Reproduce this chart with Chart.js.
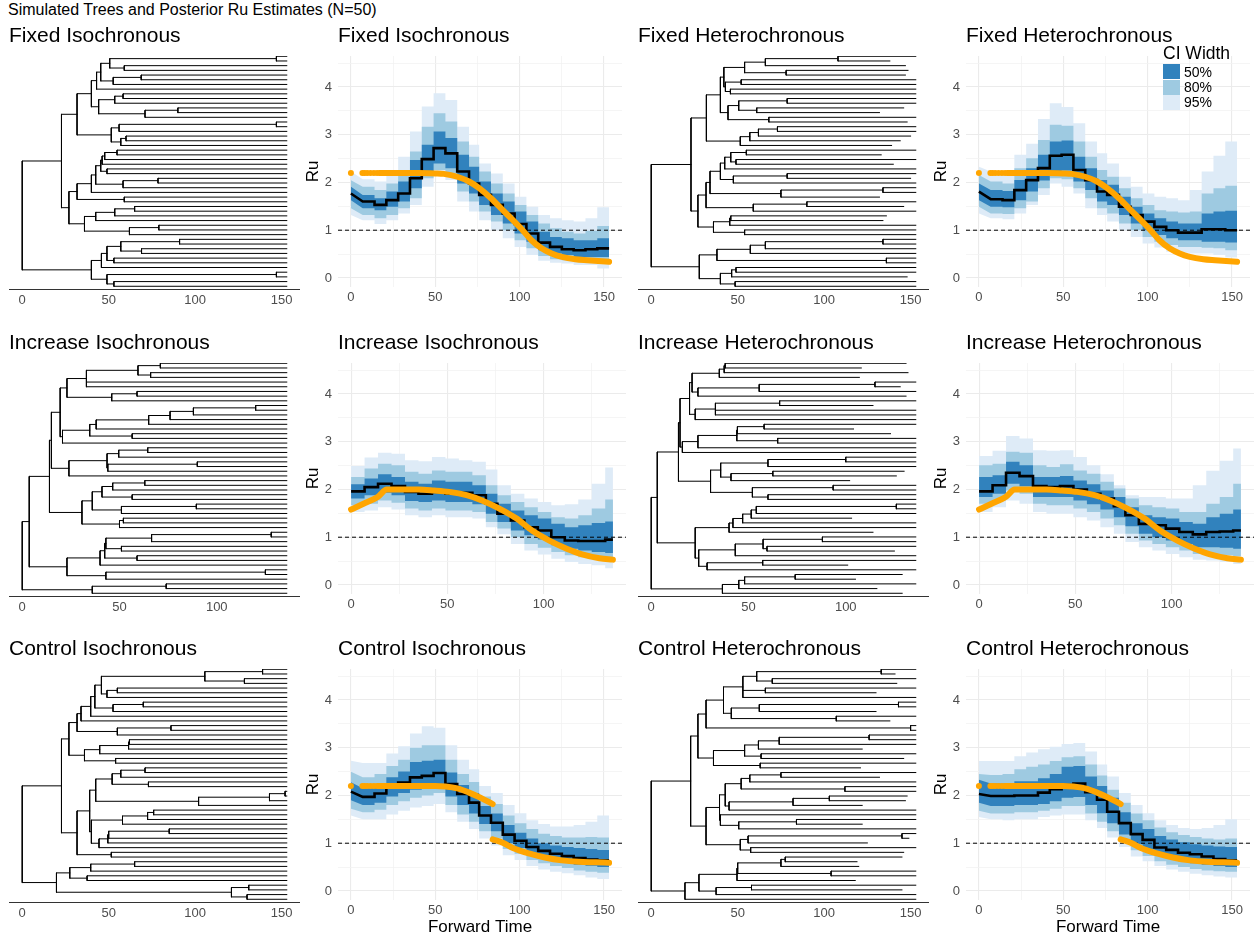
<!DOCTYPE html>
<html>
<head>
<meta charset="utf-8">
<title>Simulated Trees and Posterior Ru Estimates</title>
<script src="https://cdn.jsdelivr.net/npm/chart.js@4.4.1/dist/chart.umd.min.js"></script>
<style>
  html, body { margin: 0; padding: 0; background: #ffffff; }
  body { position: relative; width: 1254px; height: 941px; overflow: hidden;
         font-family: "Liberation Sans", Arial, Helvetica, sans-serif; }
  #mainTitle { position: absolute; left: 8px; top: 0px; font-size: 16px; line-height: 20px; color: #000; white-space: nowrap; }
  .legend-title { position: absolute; font-size: 17.5px; line-height: 20px; color: #000; white-space: nowrap; }
  .legend-key { position: absolute; width: 17px; height: 15px; }
  .legend-label { position: absolute; font-size: 14px; line-height: 15px; color: #000; white-space: nowrap; }
  canvas { position: absolute; }
</style>
</head>
<body>
<div id="mainTitle">Simulated Trees and Posterior Ru Estimates (N=50)</div>

<script>
// ---------------------------------------------------------------------------
// Time grids of the piecewise-constant Ru estimates
// ---------------------------------------------------------------------------
const timeGrid153 = [0, 7, 14, 21, 28, 35, 42, 49, 56, 63, 70, 76, 83, 90, 97, 104, 111, 118, 125, 132, 139, 146, 153];
const timeGrid136 = [0, 7, 14, 21, 28, 35, 42, 49, 56, 63, 70, 76, 83, 90, 97, 104, 111, 118, 125, 132, 136];

// ---------------------------------------------------------------------------
// Posterior Ru: median and credible interval bounds per interval
// ---------------------------------------------------------------------------
// Fixed, isochronous sampling
const fixIsoMed  = [1.77, 1.60, 1.53, 1.63, 1.77, 2.09, 2.49, 2.72, 2.61, 2.23, 1.98, 1.74, 1.53, 1.35, 1.13, 0.93, 0.74, 0.65, 0.60, 0.58, 0.60, 0.62];
const fixIsoHi50 = [1.91, 1.74, 1.67, 1.81, 2.02, 2.47, 2.79, 3.07, 2.93, 2.58, 2.33, 2.02, 1.77, 1.60, 1.39, 1.18, 0.97, 0.86, 0.83, 0.79, 0.79, 0.83];
const fixIsoLo50 = [1.63, 1.46, 1.42, 1.49, 1.60, 1.88, 2.23, 2.40, 2.30, 1.98, 1.77, 1.53, 1.32, 1.14, 0.93, 0.76, 0.58, 0.51, 0.48, 0.44, 0.44, 0.44];
const fixIsoHi80 = [2.05, 1.91, 1.84, 1.98, 2.23, 2.65, 3.17, 3.45, 3.28, 2.86, 2.54, 2.23, 1.98, 1.77, 1.53, 1.32, 1.14, 1.04, 0.97, 0.93, 0.99, 1.09];
const fixIsoLo80 = [1.46, 1.32, 1.25, 1.32, 1.46, 1.67, 2.09, 2.26, 2.16, 1.81, 1.60, 1.39, 1.18, 1.00, 0.79, 0.62, 0.46, 0.39, 0.37, 0.34, 0.34, 0.32];
const fixIsoHi95 = [2.23, 2.07, 2.02, 2.16, 2.54, 3.07, 3.59, 3.87, 3.73, 3.17, 2.79, 2.40, 2.19, 1.98, 1.70, 1.49, 1.32, 1.25, 1.21, 1.18, 1.25, 1.48];
const fixIsoLo95 = [1.32, 1.21, 1.13, 1.21, 1.35, 1.53, 1.91, 2.16, 2.05, 1.60, 1.39, 1.21, 1.00, 0.83, 0.65, 0.48, 0.36, 0.32, 0.30, 0.27, 0.27, 0.20];

// Fixed, heterochronous sampling
const fixHetMed  = [1.81, 1.65, 1.63, 1.84, 2.05, 2.30, 2.56, 2.58, 2.26, 2.05, 1.81, 1.74, 1.49, 1.32, 1.18, 1.07, 1.00, 0.95, 0.95, 1.02, 1.02, 1.00];
const fixHetHi50 = [1.98, 1.84, 1.82, 2.05, 2.30, 2.58, 2.86, 2.88, 2.54, 2.30, 2.05, 1.95, 1.70, 1.49, 1.35, 1.25, 1.18, 1.14, 1.14, 1.35, 1.39, 1.41];
const fixHetLo50 = [1.63, 1.49, 1.48, 1.63, 1.81, 2.04, 2.23, 2.25, 2.02, 1.84, 1.60, 1.53, 1.32, 1.14, 1.00, 0.90, 0.83, 0.79, 0.79, 0.76, 0.76, 0.74];
const fixHetHi80 = [2.16, 2.02, 1.98, 2.30, 2.51, 2.89, 3.21, 3.19, 2.86, 2.54, 2.26, 2.12, 1.88, 1.67, 1.53, 1.42, 1.39, 1.37, 1.39, 1.77, 1.88, 1.93];
const fixHetLo80 = [1.49, 1.35, 1.34, 1.46, 1.60, 1.88, 2.09, 2.07, 1.88, 1.67, 1.46, 1.35, 1.14, 1.00, 0.86, 0.76, 0.69, 0.65, 0.65, 0.63, 0.62, 0.58];
const fixHetHi95 = [2.33, 2.23, 2.19, 2.58, 2.81, 3.33, 3.66, 3.58, 3.24, 2.86, 2.61, 2.40, 2.12, 1.91, 1.77, 1.70, 1.67, 1.63, 1.84, 2.23, 2.56, 2.86];
const fixHetLo95 = [1.35, 1.25, 1.23, 1.35, 1.53, 1.74, 1.98, 1.91, 1.77, 1.46, 1.32, 1.18, 1.00, 0.86, 0.72, 0.64, 0.55, 0.53, 0.51, 0.51, 0.48, 0.43];

// Increase, isochronous sampling
const incIsoMed  = [1.96, 2.05, 2.12, 2.07, 1.95, 1.91, 1.95, 1.91, 1.93, 1.88, 1.70, 1.49, 1.35, 1.21, 1.14, 1.00, 0.93, 0.92, 0.92, 0.95];
const incIsoHi50 = [2.11, 2.23, 2.32, 2.26, 2.16, 2.12, 2.19, 2.16, 2.16, 2.09, 1.91, 1.70, 1.56, 1.46, 1.39, 1.28, 1.21, 1.25, 1.30, 1.33];
const incIsoLo50 = [1.81, 1.88, 1.93, 1.88, 1.76, 1.74, 1.77, 1.74, 1.74, 1.69, 1.49, 1.32, 1.14, 1.04, 0.95, 0.83, 0.76, 0.72, 0.69, 0.67];
const incIsoHi80 = [2.26, 2.44, 2.54, 2.51, 2.37, 2.33, 2.40, 2.37, 2.37, 2.30, 2.09, 1.88, 1.74, 1.63, 1.53, 1.42, 1.39, 1.46, 1.60, 1.79];
const incIsoLo80 = [1.67, 1.70, 1.77, 1.72, 1.60, 1.56, 1.60, 1.56, 1.56, 1.53, 1.32, 1.18, 1.00, 0.86, 0.78, 0.69, 0.62, 0.58, 0.55, 0.51];
const incIsoHi95 = [2.49, 2.67, 2.77, 2.75, 2.61, 2.59, 2.68, 2.65, 2.61, 2.58, 2.42, 2.09, 1.91, 1.81, 1.74, 1.67, 1.69, 1.79, 2.12, 2.46];
const incIsoLo95 = [1.53, 1.56, 1.63, 1.58, 1.46, 1.42, 1.46, 1.42, 1.42, 1.39, 1.21, 1.06, 0.86, 0.72, 0.64, 0.55, 0.48, 0.44, 0.41, 0.35];

// Increase, heterochronous sampling
const incHetMed  = [1.96, 2.09, 2.35, 2.28, 2.07, 2.05, 2.07, 2.00, 1.91, 1.81, 1.65, 1.46, 1.28, 1.25, 1.18, 1.11, 1.06, 1.11, 1.12, 1.14];
const incHetHi50 = [2.26, 2.30, 2.58, 2.51, 2.26, 2.26, 2.28, 2.19, 2.11, 1.98, 1.84, 1.63, 1.46, 1.42, 1.39, 1.32, 1.28, 1.42, 1.49, 1.58];
const incHetLo50 = [1.84, 1.91, 2.12, 2.07, 1.84, 1.84, 1.84, 1.77, 1.69, 1.58, 1.42, 1.23, 1.07, 1.00, 0.93, 0.86, 0.79, 0.79, 0.78, 0.76];
const incHetHi80 = [2.51, 2.54, 2.79, 2.77, 2.51, 2.47, 2.53, 2.40, 2.33, 2.16, 2.02, 1.81, 1.67, 1.63, 1.60, 1.53, 1.53, 1.70, 1.84, 2.12];
const incHetLo80 = [1.70, 1.77, 1.98, 1.91, 1.70, 1.67, 1.67, 1.60, 1.53, 1.39, 1.25, 1.07, 0.93, 0.86, 0.79, 0.72, 0.65, 0.64, 0.62, 0.60];
const incHetHi95 = [2.70, 2.81, 3.12, 3.07, 2.82, 2.81, 2.82, 2.68, 2.51, 2.32, 2.09, 1.88, 1.84, 1.84, 1.81, 1.81, 2.09, 2.39, 2.60, 2.86];
const incHetLo95 = [1.53, 1.63, 1.77, 1.70, 1.53, 1.49, 1.49, 1.42, 1.35, 1.21, 1.07, 0.90, 0.79, 0.72, 0.65, 0.58, 0.53, 0.51, 0.48, 0.44];

// Control, isochronous sampling
const ctlIsoMed  = [2.08, 1.97, 2.04, 2.18, 2.27, 2.38, 2.41, 2.47, 2.24, 2.03, 1.85, 1.58, 1.43, 1.18, 1.05, 0.92, 0.84, 0.78, 0.73, 0.69, 0.66, 0.64];
const ctlIsoHi50 = [2.28, 2.15, 2.20, 2.38, 2.50, 2.70, 2.73, 2.75, 2.48, 2.22, 2.05, 1.78, 1.62, 1.38, 1.22, 1.10, 1.00, 0.95, 0.92, 0.90, 0.88, 0.86];
const ctlIsoLo50 = [1.90, 1.80, 1.85, 1.98, 2.05, 2.12, 2.15, 2.20, 1.98, 1.80, 1.62, 1.40, 1.25, 1.00, 0.90, 0.78, 0.70, 0.65, 0.60, 0.55, 0.53, 0.50];
const ctlIsoHi80 = [2.50, 2.38, 2.45, 2.62, 2.75, 3.00, 3.05, 3.05, 2.75, 2.45, 2.28, 1.98, 1.82, 1.58, 1.42, 1.30, 1.20, 1.15, 1.12, 1.12, 1.13, 1.12];
const ctlIsoLo80 = [1.72, 1.65, 1.70, 1.80, 1.88, 1.95, 2.00, 2.05, 1.80, 1.60, 1.45, 1.25, 1.10, 0.88, 0.78, 0.65, 0.58, 0.52, 0.48, 0.43, 0.40, 0.38];
const ctlIsoHi95 = [2.73, 2.68, 2.68, 2.88, 3.03, 3.30, 3.45, 3.42, 3.05, 2.75, 2.55, 2.20, 2.05, 1.80, 1.63, 1.48, 1.40, 1.35, 1.35, 1.38, 1.45, 1.58];
const ctlIsoLo95 = [1.58, 1.50, 1.50, 1.60, 1.68, 1.75, 1.78, 1.82, 1.65, 1.45, 1.30, 1.10, 0.95, 0.75, 0.65, 0.52, 0.45, 0.40, 0.37, 0.33, 0.28, 0.25];

// Control, heterochronous sampling
const ctlHetMed  = [2.03, 1.99, 1.99, 2.00, 2.00, 2.06, 2.13, 2.22, 2.25, 2.07, 1.91, 1.66, 1.42, 1.19, 1.07, 0.91, 0.86, 0.80, 0.77, 0.72, 0.67, 0.64];
const ctlHetHi50 = [2.33, 2.25, 2.25, 2.30, 2.30, 2.36, 2.45, 2.60, 2.62, 2.40, 2.20, 1.95, 1.65, 1.42, 1.30, 1.15, 1.08, 1.02, 0.98, 0.95, 0.93, 0.92];
const ctlHetLo50 = [1.85, 1.78, 1.78, 1.80, 1.80, 1.82, 1.88, 1.95, 1.97, 1.80, 1.63, 1.42, 1.18, 0.98, 0.87, 0.75, 0.68, 0.62, 0.58, 0.55, 0.52, 0.50];
const ctlHetHi80 = [2.45, 2.43, 2.45, 2.55, 2.60, 2.65, 2.72, 2.80, 2.82, 2.65, 2.42, 2.12, 1.85, 1.62, 1.48, 1.33, 1.23, 1.17, 1.13, 1.10, 1.08, 1.10];
const ctlHetLo80 = [1.68, 1.62, 1.62, 1.65, 1.65, 1.68, 1.72, 1.78, 1.78, 1.62, 1.45, 1.25, 1.05, 0.85, 0.73, 0.62, 0.55, 0.50, 0.46, 0.43, 0.41, 0.40];
const ctlHetHi95 = [2.72, 2.72, 2.72, 2.82, 2.90, 2.97, 3.02, 3.08, 3.10, 2.92, 2.65, 2.40, 2.05, 1.80, 1.63, 1.48, 1.38, 1.32, 1.30, 1.32, 1.38, 1.50];
const ctlHetLo95 = [1.55, 1.50, 1.48, 1.50, 1.50, 1.55, 1.58, 1.60, 1.60, 1.48, 1.32, 1.12, 0.92, 0.72, 0.62, 0.52, 0.45, 0.40, 0.36, 0.33, 0.30, 0.28];

// ---------------------------------------------------------------------------
// True Ru trajectories of the three scenarios
// ---------------------------------------------------------------------------
const trueFixedDotX   = [0, 6.8, 8.1, 9.7, 11.6, 13.6, 15.5];
const trueFixedDotY   = [2.2, 2.2, 2.2, 2.2, 2.2, 2.2, 2.2];
const trueFixedX      = [17, 30, 40, 50, 55, 63, 70, 76, 83, 90, 96, 102, 107, 113, 119, 125, 133, 140, 153];
const trueFixedY      = [2.2, 2.2, 2.2, 2.19, 2.18, 2.12, 2.02, 1.88, 1.67, 1.42, 1.21, 0.99, 0.79, 0.62, 0.51, 0.44, 0.39, 0.37, 0.34];

const trueIncreaseX   = [0, 7, 14, 18.5, 25, 35, 43, 51, 60, 68, 77, 86, 94, 103, 112, 120, 129, 136];
const trueIncreaseY   = [1.58, 1.71, 1.85, 2.0, 2.0, 2.0, 1.98, 1.95, 1.88, 1.77, 1.60, 1.39, 1.14, 0.93, 0.76, 0.64, 0.56, 0.53];

const trueControlDotX = [0, 6.8, 8.1, 9.7, 11.6, 13.6];
const trueControlDotY = [2.2, 2.2, 2.2, 2.2, 2.2, 2.2];
const trueControlAX   = [15.5, 30, 40, 50, 56, 63, 70, 77, 84];
const trueControlAY   = [2.2, 2.2, 2.2, 2.2, 2.19, 2.15, 2.06, 1.95, 1.82];
const trueControlBX   = [84, 90, 96, 106, 115, 125, 135, 145, 153];
const trueControlBY   = [1.08, 1.01, 0.90, 0.78, 0.70, 0.64, 0.61, 0.60, 0.59];

const refLevel = 1;   // Ru = 1 threshold

// ---------------------------------------------------------------------------
// Simulated trees: "[t child child ...]" = node at time t, number = tip time,
// "." = tip sampled at the end of the simulation
// ---------------------------------------------------------------------------
const treeFixedIso = "[0 [22.7 [31.7 [40 [43 [45.4 [50.6 [147 . .] [59 . .]] [52.6 [68.8 . .] .]] .] [44.2 [53.5 [58.3 . .] .] [71 [90 . .] .]]] [51.5 [56 [147 . .] .] [57 [60 . .] .]]] [27 [31.7 [40 [42.5 [45.4 [46.2 [47.7 [54.8 . .] .] .] [49 . .]] [58.3 [78.5 . .] .]] .] [59 . .]] [36 [42.5 [53.5 [65 . .] .] .] [62 [79 . .] .]]]] [40 [45.8 [49 [57 [91 . .] [69 . .]] [53 . .]] .] [49 [147 . .] [53 . .]]]]";

const treeFixedHet = "[0 [23 [31.9 [40 [42 [54 [66 [108 153 138] 147] [78 148.5 147]] [42.9 [52 153 153] [45.8 153 153]]] [44.4 [50.6 [78.6 153 153] [61 146 132]] [68 153 148]]] [51.5 [57 [62 [73 153 153] 150] 144] 139]] [27 [31.7 [34 [40 [42.5 [46 [55 153 133] [49 153 140]] 153] [47.5 [78.6 153 150] 153]] [75 [134 153 153] 132]] [59 [90 153 146] 153]] [36 [45.4 [46 136 134] 153] [54 153 153]]]] [27.8 [38 [57.3 [66 [134 153 153] 153] 153] [136 153 153]] [40 [46.5 [49 153 153] 148] [48.5 153 153]]]]";

const treeIncreaseIso = "[0 [3.6 [14 [15 [19.5 [23 [33 [59.5 [71 . .] [66 . .]] . .] [46 [59 . .] .]] [20.7 [34.7 [38 [65 [76 [88 [120 . .] .] .] .] .] [56.5 . .]] .]] [24 [43.6 [49.6 [64.5 . .] .] [44 [90 . .] .]] .]] [30.7 [36 [41 [46.5 [63 . .] .] [56.5 . .]] [51 [89.5 . .] .]] [50 [52 . .] .]]] [23 [40 [42.4 [43 [66.5 [128 . .] .] [51 . .]] [59 . .]] .] [43 [125 . .] .]]] [36 [74 . .] .]]";

const treeIncreaseHet = "[0 [3.1 [14 [14.8 [19.7 [21 [35 [37.5 [38 131 108] 132] 107] [24 [55.5 [115 136 128] 136] 131]] [22.6 [33 [66 136 114] 136 136] 136]] [16 [24 [44 [44.3 [58 136 104] 123] [65 136 136]] 136] 136]] [30.5 [35.7 [60 [100 136 136] 136] [41 [62.5 130 126] 102]] [52 [93.5 136 136] [60 136 136]]]] [22.6 [40 [42 [47 [51.4 [54 [126 136 136] 136] 103] 136] 136] 114] [24.4 [43.2 [57.5 [88 136 136] [59.5 136 125]] 136] [28.7 [57.3 136 101] 136]]]] [36.6 [45 [48 [74 129 105] 136] 116] 129]]";

const treeControlIso = "[0 [22.7 [27 [31.7 [34 [39.6 [42 [45.8 [105.6 [139 . .] [128.5 . .]] [49 [55 . .] .]] [52.5 [70 . .] .]] .] .] [55 [86 . .] .]] [36 [44.8 [61.5 [62 . .] .] .] [54 . .]]] [31.7 [39 [42.5 [52 [57 [71 . .] .] [73 . .]] [102 [143 [152 . .] .] .]] [40 [58 [72.5 [76 . .] .] .] [44.4 [49.5 [50 [85 . .] .] .] .]]] [51.5 . .]]] [19.8 [27.5 [39.6 [65 . .] .] [37.5 . .]] [121 [131 . .] [130 . .]]]]";

const treeControlHet = "[0 [22.8 [27 [31.7 [41.8 [53 [61 [133 153 141] [70 153 142]] [66 153 130] 153] [46.3 [62.5 [143 153 153] 130] [107 153 138]]] [150 153 153]] [36 [54 [62 [74 [126 153 153] 153] 122] [63.5 153 146]] [63 153 121]]] [31.7 [39.5 [42.8 [52 [57 [75 153 132] 153] [112 153 153]] [45 [82 [103 148 147] 122] 153]] [40 153 [50.6 [84 153 122] 153]]] [51.5 [56 [145 153 149] 125] [57.5 153 146]]]] [19.5 [27.6 [49.6 [50 [75 [77.5 145 119] 120] [104 153 153]] 118] [37.5 [58 153 145] 153]] 153]]";

// ---------------------------------------------------------------------------
// Styling and page layout
// ---------------------------------------------------------------------------
const FONT = "'Liberation Sans', Arial, Helvetica, sans-serif";
const BLUE50 = '#3182BD', BLUE80 = '#9ECAE1', BLUE95 = '#DEEBF7';
const ORANGE = '#FFA500';
const TICK_COLOR = '#4D4D4D';
const GRID_MAJOR = '#EBEBEB', GRID_MINOR = '#F2F2F2';

const ROW_Y = [0, 307, 613];
const TREE_COLS = [[9, 300], [638, 929]];
const RU_COLS = [[338, 626], [966, 1254]];
const PANEL_TOP = 56, RU_BOTTOM = 287, TREE_BOTTOM = 289;
const TITLE_BOX = 40;

Chart.defaults.font.family = FONT;
Chart.defaults.animation = false;

function makeCanvas(left, top, w, h) {
  const c = document.createElement('canvas');
  c.width = w; c.height = h;
  c.style.left = left + 'px'; c.style.top = top + 'px';
  c.style.width = w + 'px'; c.style.height = h + 'px';
  document.body.appendChild(c);
  return c;
}

// Tick positions at whole multiples of the step inside the axis range
function stepTicks(step) {
  return scale => {
    const out = [];
    const first = Math.ceil(scale.min / step - 1e-9);
    for (let k = first; k * step <= scale.max + 1e-9; k++) out.push({ value: Math.round(k * step * 1000) / 1000 });
    scale.ticks = out;
  };
}

// Step outline of a piecewise-constant series. With ramp = true the first
// interval runs straight from the value at time 0 to the next value.
function stepPoints(grid, vals, ramp) {
  const pts = [];
  if (ramp) {
    pts.push({ x: grid[0], y: vals[0] });
    for (let i = 1; i < vals.length; i++) {
      pts.push({ x: grid[i], y: vals[i] }, { x: grid[i + 1], y: vals[i] });
    }
  } else {
    for (let i = 0; i < vals.length; i++) {
      pts.push({ x: grid[i], y: vals[i] }, { x: grid[i + 1], y: vals[i] });
    }
  }
  return pts;
}

function xyPoints(xs, ys) { return xs.map((x, i) => ({ x, y: ys[i] })); }

function titleOpts(text) {
  return {
    display: true, text, align: 'start', fullSize: false, color: '#000',
    font: { size: 21, weight: 'normal', family: FONT, lineHeight: 1.2 },
    padding: { top: 7.7, bottom: 7.1 }
  };
}

// ---------------------------------------------------------------------------
// Tree parsing and drawing
// ---------------------------------------------------------------------------
function parseTree(str, tEnd) {
  const tokens = str.replace(/\[/g, ' [ ').replace(/\]/g, ' ] ').trim().split(/\s+/);
  let pos = 0;
  function node() {
    const tok = tokens[pos++];
    if (tok === '[') {
      const t = parseFloat(tokens[pos++]);
      const children = [];
      while (tokens[pos] !== ']') children.push(node());
      pos++;
      return { t, children };
    }
    return { t: tok === '.' ? tEnd : parseFloat(tok) };
  }
  return node();
}

function treeSegments(root) {
  let nTips = 0;
  (function count(n) { if (!n.children) nTips++; else n.children.forEach(count); })(root);
  let nextY = nTips;
  (function place(n) {
    if (!n.children) { n.y = nextY--; return; }
    n.children.forEach(place);
    n.y = (n.children[0].y + n.children[n.children.length - 1].y) / 2;
  })(root);
  const pts = [];
  (function draw(n) {
    if (!n.children) return;
    const ys = n.children.map(c => c.y);
    pts.push({ x: n.t, y: Math.max(...ys) }, { x: n.t, y: Math.min(...ys) }, { x: n.t, y: null });
    n.children.forEach(c => {
      pts.push({ x: n.t, y: c.y }, { x: c.t, y: c.y }, { x: c.t, y: null });
      draw(c);
    });
  })(root);
  return pts;
}

function treeChart(spec) {
  const [l, r] = TREE_COLS[spec.col];
  const top = PANEL_TOP + ROW_Y[spec.row], bottom = TREE_BOTTOM + ROW_Y[spec.row];
  const padL = 9, xH = 22;
  const canvas = makeCanvas(l - padL, top - TITLE_BOX, r - l + padL, bottom - top + TITLE_BOX + xH);
  const segs = treeSegments(parseTree(spec.tree, spec.tMax));
  new Chart(canvas, {
    type: 'line',
    data: { datasets: [{
      data: segs, borderColor: '#000', borderWidth: 1, pointRadius: 0,
      spanGaps: false, tension: 0, borderCapStyle: 'square'
    }] },
    options: {
      responsive: false, animation: false, devicePixelRatio: 1,
      layout: { padding: { left: padL, right: 0, top: 0, bottom: 0 } },
      plugins: { legend: { display: false }, tooltip: { enabled: false }, title: titleOpts(spec.title) },
      scales: {
        x: {
          type: 'linear', min: -0.05 * spec.tMax, max: 1.05 * spec.tMax,
          afterBuildTicks: stepTicks(50),
          afterFit: s => { s.height = xH; },
          grid: { display: false, drawTicks: false },
          border: { display: true, color: '#333333', width: 1 },
          ticks: {
            autoSkip: false, maxRotation: 0, padding: 4,
            color: TICK_COLOR, font: { size: 13 }
          }
        },
        y: { type: 'linear', display: false, min: 0.42, max: 50.06 }
      }
    }
  });
}

// ---------------------------------------------------------------------------
// Ru posterior panels
// ---------------------------------------------------------------------------
function isMajor(value, major) {
  return Math.abs(value / major - Math.round(value / major)) < 1e-6;
}

function ruChart(spec) {
  const [l, r] = RU_COLS[spec.col];
  const top = PANEL_TOP + ROW_Y[spec.row], bottom = RU_BOTTOM + ROW_Y[spec.row];
  const yW = 40;
  const xH = spec.row === 2 ? 40 : 22;
  const canvas = makeCanvas(l - yW, top - TITLE_BOX, r - l + yW, bottom - top + TITLE_BOX + xH);
  const xMin = -0.05 * spec.tMax, xMax = 1.05 * spec.tMax;
  const hidden = { borderColor: 'rgba(0,0,0,0)', borderWidth: 0, pointRadius: 0 };
  const ds = [];
  const steps = vals => stepPoints(spec.grid, vals, spec.ramp);
  const band = (hi, lo, color, order) => {
    ds.push(Object.assign({ data: steps(hi), fill: '+1', backgroundColor: color, order }, hidden));
    ds.push(Object.assign({ data: steps(lo), fill: false, order }, hidden));
  };
  band(spec.hi95, spec.lo95, BLUE95, 6);
  band(spec.hi80, spec.lo80, BLUE80, 5);
  band(spec.hi50, spec.lo50, BLUE50, 4);
  ds.push({ data: [{ x: xMin, y: refLevel }, { x: xMax, y: refLevel }], borderColor: '#000',
            borderWidth: 1, borderDash: [4, 3], pointRadius: 0, fill: false, order: 3 });
  ds.push({ data: steps(spec.med), borderColor: '#000', borderWidth: 2.6,
            pointRadius: 0, fill: false, borderJoinStyle: 'miter', order: 2 });
  spec.truth.forEach(t => {
    if (t.dots) {
      ds.push({ data: xyPoints(t.x, t.y), showLine: false, pointRadius: 3, pointBorderWidth: 0,
                pointBackgroundColor: ORANGE, fill: false, order: 1 });
    } else {
      ds.push({ data: xyPoints(t.x, t.y), borderColor: ORANGE, borderWidth: 6, pointRadius: 0,
                cubicInterpolationMode: 'monotone', borderCapStyle: 'round', fill: false, order: 1 });
    }
  });

  new Chart(canvas, {
    type: 'line',
    data: { datasets: ds },
    options: {
      responsive: false, animation: false, devicePixelRatio: 1,
      layout: { padding: 0 },
      plugins: { legend: { display: false }, tooltip: { enabled: false }, title: titleOpts(spec.title) },
      scales: {
        x: {
          type: 'linear', min: xMin, max: xMax,
          afterBuildTicks: stepTicks(25),
          afterFit: s => { s.height = xH; },
          border: { display: false },
          grid: { drawTicks: false,
                  color: c => (isMajor(c.tick.value, 50) ? GRID_MAJOR : GRID_MINOR),
                  lineWidth: c => (isMajor(c.tick.value, 50) ? 1.1 : 0.8) },
          ticks: {
            autoSkip: false, maxRotation: 0, padding: 3,
            color: TICK_COLOR, font: { size: 13 },
            callback: v => (isMajor(v, 50) ? String(v) : '')
          },
          title: { display: spec.row === 2, text: 'Forward Time', color: '#000',
                   font: { size: 17 }, padding: { top: 0, bottom: 2.8 } }
        },
        y: {
          type: 'linear', min: -0.19, max: 4.65,
          afterBuildTicks: stepTicks(0.5),
          afterFit: s => { s.width = yW; },
          border: { display: false },
          grid: { drawTicks: false,
                  color: c => (isMajor(c.tick.value, 1) ? GRID_MAJOR : GRID_MINOR),
                  lineWidth: c => (isMajor(c.tick.value, 1) ? 1.1 : 0.8) },
          ticks: {
            autoSkip: false, padding: 6,
            color: TICK_COLOR, font: { size: 13 },
            callback: v => (isMajor(v, 1) ? String(v) : '')
          },
          title: { display: true, text: 'Ru', color: '#000', font: { size: 17 }, padding: { top: 4.8, bottom: 0 } }
        }
      }
    }
  });
}

// ---------------------------------------------------------------------------
// Panels
// ---------------------------------------------------------------------------
const truthFixed = [
  { dots: true, x: trueFixedDotX, y: trueFixedDotY },
  { x: trueFixedX, y: trueFixedY }
];
const truthIncrease = [{ x: trueIncreaseX, y: trueIncreaseY }];
const truthControl = [
  { dots: true, x: trueControlDotX, y: trueControlDotY },
  { x: trueControlAX, y: trueControlAY },
  { x: trueControlBX, y: trueControlBY }
];

treeChart({ row: 0, col: 0, title: 'Fixed Isochronous', tree: treeFixedIso, tMax: 153 });
treeChart({ row: 0, col: 1, title: 'Fixed Heterochronous', tree: treeFixedHet, tMax: 153 });
treeChart({ row: 1, col: 0, title: 'Increase Isochronous', tree: treeIncreaseIso, tMax: 136 });
treeChart({ row: 1, col: 1, title: 'Increase Heterochronous', tree: treeIncreaseHet, tMax: 136 });
treeChart({ row: 2, col: 0, title: 'Control Isochronous', tree: treeControlIso, tMax: 153 });
treeChart({ row: 2, col: 1, title: 'Control Heterochronous', tree: treeControlHet, tMax: 153 });

ruChart({ row: 0, col: 0, title: 'Fixed Isochronous', grid: timeGrid153, ramp: true, tMax: 153, truth: truthFixed,
  med: fixIsoMed, hi50: fixIsoHi50, lo50: fixIsoLo50, hi80: fixIsoHi80, lo80: fixIsoLo80, hi95: fixIsoHi95, lo95: fixIsoLo95 });
ruChart({ row: 0, col: 1, title: 'Fixed Heterochronous', grid: timeGrid153, ramp: true, tMax: 153, truth: truthFixed,
  med: fixHetMed, hi50: fixHetHi50, lo50: fixHetLo50, hi80: fixHetHi80, lo80: fixHetLo80, hi95: fixHetHi95, lo95: fixHetLo95 });
ruChart({ row: 1, col: 0, title: 'Increase Isochronous', grid: timeGrid136, ramp: false, tMax: 136, truth: truthIncrease,
  med: incIsoMed, hi50: incIsoHi50, lo50: incIsoLo50, hi80: incIsoHi80, lo80: incIsoLo80, hi95: incIsoHi95, lo95: incIsoLo95 });
ruChart({ row: 1, col: 1, title: 'Increase Heterochronous', grid: timeGrid136, ramp: false, tMax: 136, truth: truthIncrease,
  med: incHetMed, hi50: incHetHi50, lo50: incHetLo50, hi80: incHetHi80, lo80: incHetLo80, hi95: incHetHi95, lo95: incHetLo95 });
ruChart({ row: 2, col: 0, title: 'Control Isochronous', grid: timeGrid153, ramp: true, tMax: 153, truth: truthControl,
  med: ctlIsoMed, hi50: ctlIsoHi50, lo50: ctlIsoLo50, hi80: ctlIsoHi80, lo80: ctlIsoLo80, hi95: ctlIsoHi95, lo95: ctlIsoLo95 });
ruChart({ row: 2, col: 1, title: 'Control Heterochronous', grid: timeGrid153, ramp: true, tMax: 153, truth: truthControl,
  med: ctlHetMed, hi50: ctlHetHi50, lo50: ctlHetLo50, hi80: ctlHetHi80, lo80: ctlHetLo80, hi95: ctlHetHi95, lo95: ctlHetLo95 });

// ---------------------------------------------------------------------------
// Credible interval legend
// ---------------------------------------------------------------------------
const legendLabels = ['50%', '80%', '95%'];
const legendColors = [BLUE50, BLUE80, BLUE95];
(function buildLegend() {
  const x0 = 1163, y0 = 64, keyH = 15;
  const t = document.createElement('div');
  t.className = 'legend-title';
  t.textContent = 'CI Width';
  t.style.left = x0 + 'px'; t.style.top = (y0 - 21) + 'px';
  document.body.appendChild(t);
  legendLabels.forEach((lab, i) => {
    const k = document.createElement('div');
    k.className = 'legend-key';
    k.style.left = x0 + 'px'; k.style.top = (y0 + i * keyH + (i > 0 ? 1 : 0)) + 'px';
    k.style.background = legendColors[i];
    document.body.appendChild(k);
    const tx = document.createElement('div');
    tx.className = 'legend-label';
    tx.textContent = lab;
    tx.style.left = (x0 + 21) + 'px'; tx.style.top = (y0 + i * keyH + 1) + 'px';
    document.body.appendChild(tx);
  });
})();
</script>
</body>
</html>
